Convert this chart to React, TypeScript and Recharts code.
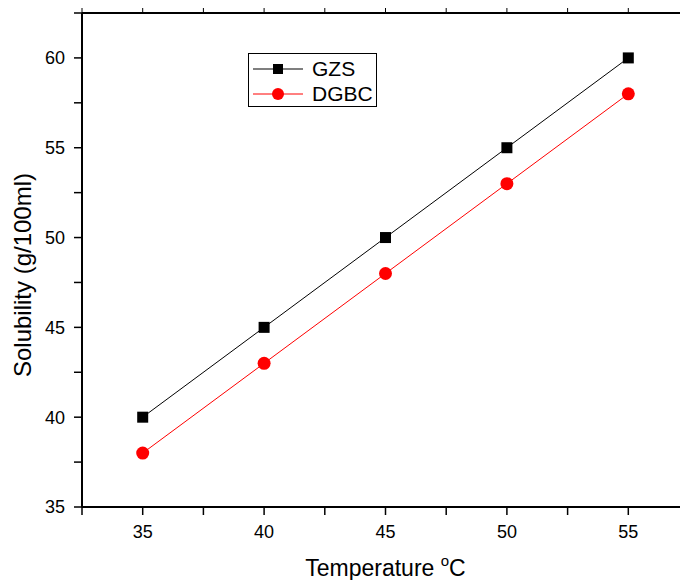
import React from 'react';
import { LineChart, Line, XAxis, YAxis, Legend } from 'recharts';

const temperatures = [35, 40, 45, 50, 55];
const gzsValues = [40, 45, 50, 55, 60];
const dgbcValues = [38, 43, 48, 53, 58];
const seriesNames = ['GZS', 'DGBC'];
const seriesColors = ['#000000', '#ff0000'];
const xTicks = [32.5, 35, 37.5, 40, 42.5, 45, 47.5, 50, 52.5, 55, 57.5];
const yTicks = [35, 37.5, 40, 42.5, 45, 47.5, 50, 52.5, 55, 57.5, 60, 62.5];

const data = temperatures.map((t, i) => ({ t, gzs: gzsValues[i], dgbc: dgbcValues[i] }));

const FONT = 'Arial, "Liberation Sans", sans-serif';

const fmt = (v: number) => (v % 5 === 0 ? String(v) : '');

const SquareDot = (props: any) => {
  const { cx, cy } = props;
  if (cx == null || cy == null) return null;
  return <rect x={cx - 5.5} y={cy - 5.5} width={11} height={11} fill="#000" />;
};

const CircleDot = (props: any) => {
  const { cx, cy } = props;
  if (cx == null || cy == null) return null;
  return <circle cx={cx} cy={cy} r={6.5} fill="#ff0000" />;
};

const XLabel = (props: any) => {
  const vb = props.viewBox || {};
  const cx = vb.x + vb.width / 2;
  return (
    <text x={cx} y={568} textAnchor="middle" fontSize={23} fontFamily={FONT} fill="#000">
      <tspan>Temperature </tspan>
      <tspan fontSize={15} dy={-10}>o</tspan>
      <tspan dy={10}>C</tspan>
    </text>
  );
};

const YLabel = (props: any) => {
  const vb = props.viewBox || {};
  const x = 23;
  const y = vb.y + 262;
  return (
    <text x={x} y={y} transform={`rotate(-90 ${x} ${y})`} textAnchor="middle" fontSize={24} fontFamily={FONT} fill="#000">
      Solubility (g/100ml)
    </text>
  );
};

const LegendBox = () => (
  <div
    style={{
      border: '1px solid #000',
      background: '#fff',
      width: 129,
      height: 54,
      boxSizing: 'border-box',
      fontFamily: FONT,
      fontSize: 21,
      paddingTop: 2,
    }}
  >
    {seriesNames.map((name, i) => (
      <div key={name} style={{ display: 'flex', alignItems: 'center', height: 25 }}>
        <svg width={60} height={20} style={{ marginLeft: 3 }}>
          <line x1={1} y1={10} x2={51} y2={10} stroke={i === 0 ? '#555' : seriesColors[i]} strokeWidth={i === 0 ? 1.5 : 1} />
          {i === 0 ? (
            <rect x={21} y={5} width={10} height={10} fill="#000" />
          ) : (
            <circle cx={26} cy={10} r={6} fill="#ff0000" />
          )}
        </svg>
        <span style={{ color: '#000' }}>{name}</span>
      </div>
    ))}
  </div>
);

export default function App() {
  return (
    <div style={{ position: 'fixed', left: 0, top: 0, width: 680, height: 580, overflow: 'hidden', background: '#fff' }}>
      <div style={{ position: 'absolute', left: 8, top: 8 }}>
        <LineChart width={700} height={572} data={data} margin={{ top: 0, right: 19, left: 0, bottom: 0 }}>
          <XAxis
            xAxisId="top"
            orientation="top"
            type="number"
            dataKey="t"
            domain={[32.5, 57.5]}
            ticks={xTicks}
            tickFormatter={() => ''}
            height={5}
            tickSize={5}
            axisLine={{ stroke: '#000', strokeWidth: 2 }}
            tickLine={{ stroke: '#000' }}
            allowDataOverflow
          />
          <XAxis
            xAxisId="bottom"
            type="number"
            dataKey="t"
            domain={[32.5, 57.5]}
            ticks={xTicks}
            tickFormatter={fmt}
            height={73}
            tickSize={8}
            tickMargin={10}
            axisLine={{ stroke: '#000', strokeWidth: 2 }}
            tickLine={{ stroke: '#000', strokeWidth: 1.5 }}
            tick={{ fill: '#000', fontSize: 18, fontFamily: FONT }}
            label={<XLabel />}
            allowDataOverflow
          />
          <YAxis
            type="number"
            domain={[35, 62.5]}
            ticks={yTicks}
            tickFormatter={fmt}
            width={74}
            tickSize={8}
            tickMargin={9}
            axisLine={{ stroke: '#000', strokeWidth: 2 }}
            tickLine={{ stroke: '#000', strokeWidth: 1.5 }}
            tick={{ fill: '#000', fontSize: 18, fontFamily: FONT }}
            label={<YLabel />}
            allowDataOverflow
          />
          <Legend
            layout="horizontal"
            verticalAlign="middle"
            align="center"
            content={() => <LegendBox />}
            wrapperStyle={{ position: 'absolute', left: 240, top: 45, width: 129, height: 54 }}
          />
          <Line
            xAxisId="bottom"
            dataKey="gzs"
            name={seriesNames[0]}
            stroke={seriesColors[0]}
            strokeWidth={1}
            dot={<SquareDot />}
            activeDot={false}
            isAnimationActive={false}
          />
          <Line
            xAxisId="bottom"
            dataKey="dgbc"
            name={seriesNames[1]}
            stroke={seriesColors[1]}
            strokeWidth={1}
            dot={<CircleDot />}
            activeDot={false}
            isAnimationActive={false}
          />
        </LineChart>
      </div>
    </div>
  );
}
